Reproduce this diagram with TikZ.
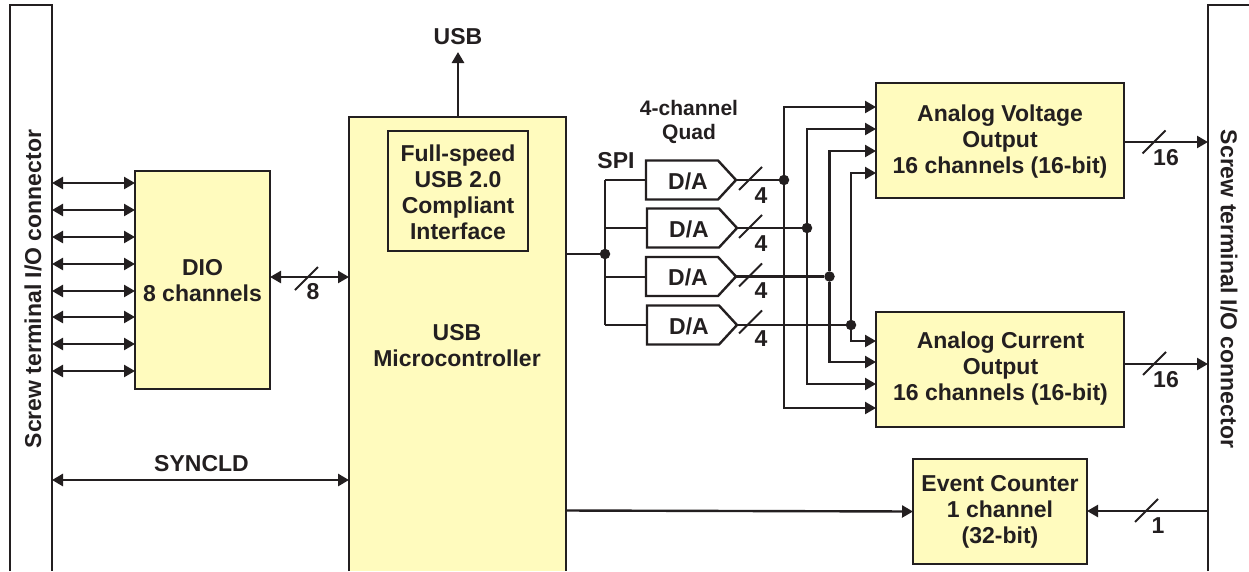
\documentclass[tikz,border=0pt]{standalone}
\usepackage{fontspec}
\setmainfont{Liberation Sans}[BoldFont={Liberation Sans Bold}]
\usetikzlibrary{arrows.meta,calc}
\definecolor{ink}{HTML}{231F20}
\definecolor{pale}{HTML}{FFFBBE}
\tikzset{
  txt/.style={font=\fontsize{23}{26}\selectfont\bfseries,text=ink,align=center,inner sep=0pt},
  smalltxt/.style={font=\fontsize{21}{24}\selectfont\bfseries,text=ink,align=center,inner sep=0pt},
  blockbox/.style={draw=ink,fill=pale,line width=2.6pt,inner sep=0pt,outer sep=0pt,minimum width=#1},
  tallbox/.style={minimum height=#1},
  wire/.style={draw=ink,line width=2.4pt},
  thinwire/.style={draw=ink,line width=2pt},
  thickwire/.style={draw=ink,line width=2.8pt},
  oneway/.style={-{Triangle[length=11pt,width=12pt]}},
  twoway/.style={{Triangle[length=11pt,width=12pt]}-{Triangle[length=11pt,width=12pt]}},
  junction/.style={circle,fill=ink,inner sep=0pt,minimum size=10.5pt},
  slashmark/.style={draw=ink,line width=2pt},
  openbox/.style={draw=ink,line width=2.6pt},
  dac/.style={draw=ink,line width=2.4pt,fill=white,line join=miter}
}
\begin{document}
\begin{tikzpicture}[x=1pt,y=-1pt]
\useasboundingbox (0,0) rectangle (1249,571);
% open-ended boxes
\node[inner sep=0pt,outer sep=0pt,minimum width=42pt,minimum height=566pt] (lc) at (31,288) {};
\node[inner sep=0pt,outer sep=0pt,minimum width=41pt,minimum height=566pt] (rc) at (1228.5,288) {};
\node[inner sep=0pt,outer sep=0pt,fill=pale,minimum width=217pt,minimum height=454pt] (mc) at (457.5,344) {};
\draw[openbox] (lc.south west) |- (lc.north east) -- (lc.south east);
\draw[openbox] (rc.south west) |- (rc.north east);
\draw[openbox] (mc.south west) |- (mc.north east) -- (mc.south east);
\node[txt,rotate=90] (lct) at (33,289) {Screw terminal I/O connector};
\node[txt,rotate=-90] (rct) at (1229,289) {Screw terminal I/O connector};
\node[txt] (mct) at (457,346) {USB\\Microcontroller};
% blocks
\node[blockbox=140pt,tallbox=120pt,line width=2.6pt] (usbif) at (458,191) {};
\node[txt] (usbt2) at (458,192) {Full-speed\\USB 2.0\\Compliant\\Interface};
\node[blockbox=135pt,tallbox=218pt] (dio) at (202.5,280) {};
\node[txt] (diot) at (202.5,281) {DIO\\8 channels};
\node[blockbox=248pt,tallbox=115pt] (avo) at (1000,140.5) {};
\node[txt] (avot) at (1000,141.5) {Analog Voltage\\Output\\16 channels (16-bit)};
\node[blockbox=248pt,tallbox=115pt] (aco) at (1000,369.5) {};
\node[txt] (acot) at (1000.5,368.5) {Analog Current\\Output\\16 channels (16-bit)};
\node[blockbox=174pt,tallbox=105pt] (ec) at (1000,511.5) {};
\node[txt] (ect) at (1000,512) {Event Counter\\1 channel\\(32-bit)};
% D/A converters
\foreach \n/\x/\y in {1/646/180,2/647/228,3/646/276.5,4/647/325}{
  \coordinate (dw\n) at (\x,\y);
  \coordinate (de\n) at (\x+90,\y);
  \draw[dac] (\x,\y-19.5) -- (\x+72,\y-19.5) -- (de\n) -- (\x+72,\y+19.5) -- (\x,\y+19.5) -- cycle;
  \node[txt] (dt\n) at (\x+42,\y+1) {D/A};
}
% SPI bus
\node[junction] (spi) at (605,254) {};
\draw[thickwire] (mc.east |- spi) -- (spi);
\draw[thinwire] (spi |- dw1) -- (spi |- dw4);
\foreach \n in {1,2,3,4}{ \draw[thinwire] (spi |- dw\n) -- (dw\n); }
% output junctions
\node[junction] (j1) at (784,180) {};
\node[junction] (j2) at (807,228) {};
\node[junction] (j3) at (829.5,276.5) {};
\node[junction] (j4) at (851,325) {};
\foreach \n in {1,2,3,4}{ \draw[thickwire] (de\n) -- (j\n); }
% vertical buses to both output blocks
\foreach \n/\ya/\yb in {1/107/408,2/129/384,3/151/362,4/173/341}{
  \coordinate (ta\n) at (avo.west |- 0,\ya);
  \coordinate (tb\n) at (aco.west |- 0,\yb);
  \draw[wire,oneway] (j\n) |- (ta\n);
  \draw[wire,oneway] (j\n) |- (tb\n);
}
% DIO lines
\foreach \y in {183,210,237,264,291,317,344,371}{
  \draw[wire,twoway] (lc.east |- 0,\y) -- (dio.west |- 0,\y);
}
\draw[wire,twoway] (dio.east |- 0,277) -- (mc.west |- 0,277);
\draw[thickwire,twoway] (lc.east |- 0,480) -- (mc.west |- 0,480);
% USB
\node[txt] (usbt) at (458,37) {USB};
\draw[line width=2.8pt,draw=ink,oneway] (mc.north -| 458,0) -- (458,52);
% right hand side
\draw[wire,oneway] (avo.east |- 0,142) -- (rc.west |- 0,142);
\draw[wire,oneway] (aco.east |- 0,364) -- (rc.west |- 0,364);
\draw[wire,oneway] (mc.east |- 0,510.5) -- (ec.west |- 0,511.5);
\draw[wire,oneway] (rc.west |- 0,511) -- (ec.east |- 0,511);
% bus slashes
\foreach \n/\x/\y in {a/750.5/178.5,b/750.5/226.5,c/750.5/275,d/750.5/322,e/306.5/278.5,f/1154/142,g/1154.5/363.5,h/1146.5/510.5}{
  \coordinate (sl\n) at (\x,\y);
  \draw[slashmark] (sl\n) ++(-11.5,11.5) -- ++(23,-23);
}
% labels
\node[txt] (n1) at (761,196) {4};
\node[txt] (n2) at (761,244) {4};
\node[txt] (n3) at (761,291) {4};
\node[txt] (n4) at (761,339) {4};
\node[txt] (n5) at (313,292) {8};
\node[txt] (n6) at (1166,158) {16};
\node[txt] (n7) at (1166,380) {16};
\node[txt] (n8) at (1158,526) {1};
\node[txt] (spit) at (616,161) {SPI};
\node[smalltxt] (quad) at (689,122) {4-channel\\Quad};
\node[txt] (sync) at (201.5,464) {SYNCLD};
\end{tikzpicture}
\end{document}
